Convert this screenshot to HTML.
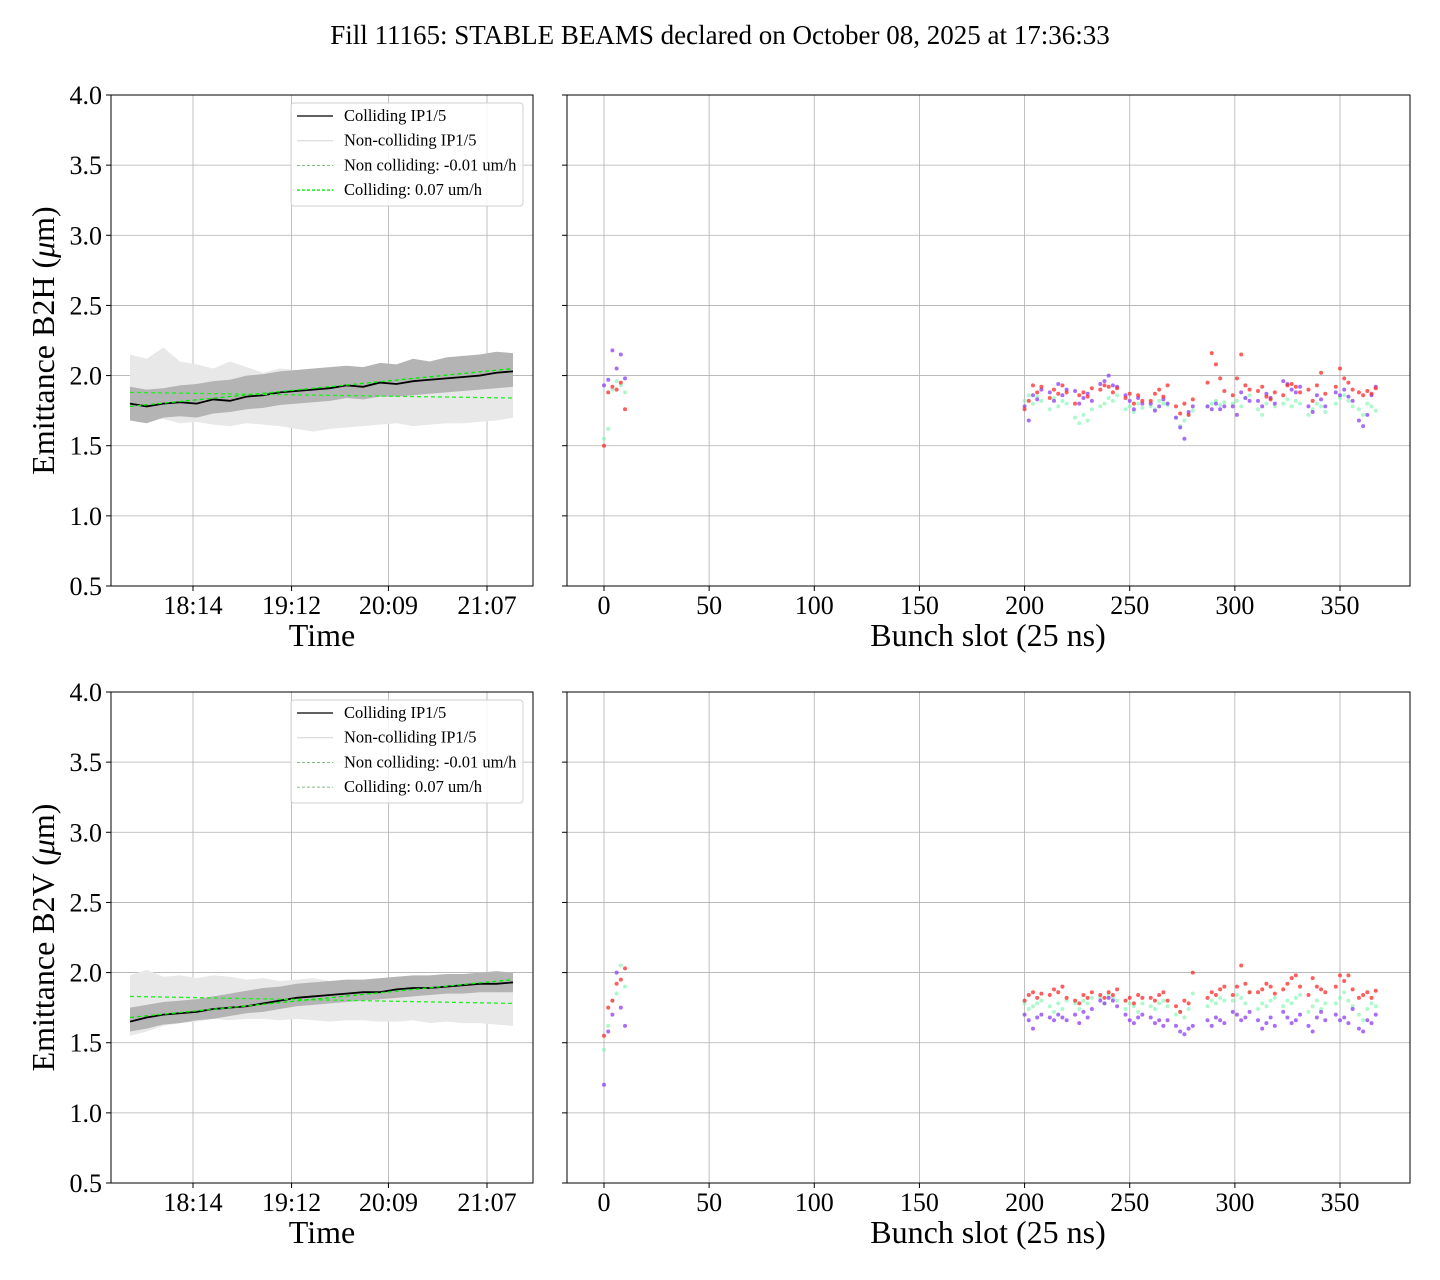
<!DOCTYPE html>
<html><head><meta charset="utf-8"><style>
html,body{margin:0;padding:0;background:#fff}
svg{display:block;font-family:"Liberation Serif",serif}
</style></head><body>
<svg id="chart" width="1440" height="1280" viewBox="0 0 1440 1280" xmlns="http://www.w3.org/2000/svg">
<rect width="1440" height="1280" fill="#fff"/>
<text x="720" y="44" font-size="27" text-anchor="middle">Fill 11165: STABLE BEAMS declared on October 08, 2025 at 17:36:33</text>
</svg>
<script>
// ---------- data ----------
const yTicks = [0.5,1.0,1.5,2.0,2.5,3.0,3.5,4.0];
const timeTickLabels = ["18:14","19:12","20:09","21:07"];
const timeTickMinutes = [37,95,152,210];
const slotTicks = [0,50,100,150,200,250,300,350];
// B2H time series (24 samples, 0..225 minutes after 17:37)
const h_coll = [1.80,1.78,1.80,1.81,1.80,1.83,1.82,1.85,1.86,1.88,1.89,1.90,1.91,1.93,1.92,1.95,1.94,1.96,1.97,1.98,1.99,2.00,2.02,2.03];
const h_collHi = [1.92,1.90,1.91,1.93,1.94,1.96,1.97,2.00,2.01,2.03,2.04,2.05,2.06,2.07,2.06,2.09,2.08,2.12,2.10,2.13,2.14,2.15,2.17,2.16];
const h_collLo = [1.68,1.66,1.70,1.71,1.70,1.73,1.74,1.76,1.77,1.79,1.80,1.81,1.82,1.84,1.83,1.85,1.85,1.86,1.87,1.88,1.89,1.90,1.91,1.92];
const h_ncHi = [2.15,2.12,2.20,2.10,2.08,2.05,2.10,2.06,2.02,2.05,2.04,2.03,2.05,2.06,2.02,2.04,2.05,2.03,2.06,2.02,2.04,2.03,2.02,2.00];
const h_ncLo = [1.70,1.68,1.69,1.66,1.67,1.65,1.64,1.66,1.65,1.64,1.62,1.60,1.62,1.63,1.64,1.65,1.66,1.64,1.65,1.66,1.66,1.67,1.68,1.70];
const h_fitNC = [1.88,1.84];
const h_fitC = [1.78,2.05];
// B2V time series
const v_coll = [1.65,1.68,1.70,1.71,1.72,1.74,1.75,1.76,1.78,1.80,1.82,1.83,1.84,1.85,1.86,1.86,1.88,1.89,1.89,1.90,1.91,1.92,1.92,1.93];
const v_collHi = [1.75,1.77,1.79,1.80,1.81,1.83,1.85,1.87,1.89,1.90,1.92,1.93,1.94,1.95,1.95,1.96,1.97,1.98,1.98,1.99,1.99,2.00,2.01,2.00];
const v_collLo = [1.58,1.60,1.63,1.64,1.66,1.67,1.69,1.71,1.72,1.74,1.76,1.77,1.78,1.79,1.80,1.81,1.82,1.83,1.84,1.85,1.85,1.86,1.86,1.86];
const v_ncHi = [1.98,2.02,1.97,1.98,1.96,1.98,1.97,1.95,1.96,1.94,1.95,1.96,1.94,1.93,1.95,1.94,1.93,1.94,1.93,1.92,1.93,1.94,1.92,1.93];
const v_ncLo = [1.55,1.58,1.62,1.64,1.65,1.67,1.66,1.67,1.67,1.66,1.67,1.66,1.65,1.66,1.66,1.65,1.65,1.66,1.64,1.65,1.64,1.64,1.63,1.62];
const v_fitNC = [1.83,1.78];
const v_fitC = [1.68,1.95];
// bunch slots
const slots = [0,2,4,6,8,10, 200,202,204,206,208, 212,214,216,218,220, 224,226,228,230,232, 236,238,240,242,244, 248,250,252,254,256, 260,262,264,266,268, 272,274,276,278,280, 287,289,291,293,295, 299,301,303,305,307, 311,313,315,317,319, 323,325,327,329,331, 335,337,339,341,343, 348,350,352,354,356, 359,361,363,365,367];
const h_red = [1.50,1.88,1.92,1.90,1.95,1.76, 1.76,1.82,1.93,1.88,1.92, 1.84,1.90,1.87,1.93,1.88, 1.80,1.86,1.88,1.85,1.91, 1.90,1.93,1.92,1.88,1.91, 1.84,1.87,1.80,1.86,1.82, 1.82,1.87,1.90,1.85,1.93, 1.78,1.73,1.80,1.72,1.83, 1.95,2.16,2.08,1.98,1.89, 1.86,1.98,2.15,1.93,1.90, 1.89,1.92,1.85,1.83,1.88, 1.86,1.93,1.94,1.92,1.88, 1.90,1.82,1.93,2.02,1.87, 1.92,2.05,1.98,1.95,1.90, 1.88,1.86,1.89,1.87,1.91];
const h_purple = [1.93,1.97,2.18,2.05,2.15,1.98, 1.78,1.68,1.86,1.83,1.90, 1.88,1.82,1.94,1.86,1.90, 1.89,1.80,1.84,1.87,1.82, 1.94,1.96,2.00,1.93,1.92, 1.86,1.82,1.76,1.84,1.80, 1.80,1.75,1.78,1.83,1.80, 1.70,1.63,1.55,1.74,1.78, 1.78,1.76,1.80,1.76,1.78, 1.78,1.72,1.88,1.84,1.82, 1.82,1.78,1.87,1.84,1.80, 1.96,1.94,1.90,1.88,1.92, 1.78,1.74,1.86,1.83,1.78, 1.88,1.86,1.90,1.85,1.82, 1.68,1.64,1.72,1.86,1.92];
const h_green = [1.55,1.62,1.90,1.96,1.93,1.88, 1.82,1.86,1.80,1.85,1.82, 1.76,1.84,1.78,1.82,1.80, 1.70,1.66,1.72,1.68,1.76, 1.78,1.80,1.84,1.82,1.86, 1.76,1.78,1.74,1.80,1.77, 1.78,1.76,1.82,1.80,1.79, 1.70,1.64,1.68,1.72,1.75, 1.78,1.80,1.82,1.79,1.81, 1.80,1.82,1.78,1.84,1.86, 1.76,1.72,1.80,1.84,1.78, 1.80,1.83,1.78,1.82,1.80, 1.72,1.76,1.80,1.78,1.74, 1.80,1.84,1.86,1.82,1.78, 1.76,1.72,1.80,1.78,1.75];
const v_red = [1.55,1.75,1.80,1.92,1.95,2.03, 1.80,1.84,1.86,1.82,1.85, 1.84,1.88,1.86,1.90,1.82, 1.80,1.78,1.84,1.82,1.86, 1.84,1.82,1.86,1.84,1.88, 1.80,1.82,1.78,1.84,1.82, 1.82,1.80,1.84,1.86,1.80, 1.76,1.72,1.80,1.78,2.00, 1.82,1.86,1.84,1.88,1.90, 1.84,1.90,2.05,1.92,1.86, 1.86,1.88,1.92,1.90,1.85, 1.88,1.92,1.96,1.98,1.90, 1.84,1.96,1.90,1.88,1.86, 1.90,1.98,1.94,1.98,1.88, 1.82,1.84,1.86,1.82,1.87];
const v_purple = [1.20,1.58,1.70,2.00,1.75,1.62, 1.70,1.66,1.60,1.68,1.70, 1.68,1.66,1.70,1.68,1.66, 1.70,1.64,1.72,1.68,1.74, 1.80,1.78,1.82,1.80,1.76, 1.70,1.66,1.64,1.68,1.70, 1.68,1.64,1.66,1.62,1.66, 1.62,1.58,1.56,1.60,1.62, 1.66,1.62,1.68,1.66,1.64, 1.72,1.70,1.66,1.68,1.72, 1.66,1.60,1.64,1.68,1.62, 1.72,1.68,1.64,1.66,1.70, 1.62,1.58,1.68,1.72,1.66, 1.70,1.66,1.68,1.64,1.74, 1.60,1.58,1.66,1.64,1.70];
const v_green = [1.45,1.62,1.80,1.85,2.05,1.90, 1.78,1.74,1.76,1.78,1.80, 1.76,1.72,1.78,1.74,1.80, 1.78,1.74,1.80,1.78,1.82, 1.82,1.78,1.84,1.82,1.80, 1.74,1.78,1.76,1.72,1.78, 1.76,1.74,1.78,1.80,1.76, 1.70,1.72,1.68,1.74,1.85, 1.76,1.80,1.78,1.82,1.80, 1.80,1.84,1.82,1.78,1.86, 1.74,1.78,1.76,1.80,1.82, 1.76,1.80,1.78,1.82,1.84, 1.72,1.76,1.80,1.74,1.78, 1.78,1.82,1.86,1.80,1.76, 1.70,1.66,1.74,1.78,1.76];

// ---------- drawing ----------
const NS="http://www.w3.org/2000/svg";
const svg=document.getElementById('chart');
function mk(tag,attrs,parent){const e=document.createElementNS(NS,tag);for(const k in attrs)e.setAttribute(k,attrs[k]);(parent||svg).appendChild(e);return e;}
const tL=130, tR=513;
function xTime(m){return 193+(m-37)*(294/173);}
function xSlot(s){return 604+s*(736/350);}
function makeY(top,bot){return v=>bot-(v-0.5)*(bot-top)/3.5;}

function panel(top,bot,label,d,legendFitColor){
  const y=makeY(top,bot);
  const L=111,R=533,L2=567,R2=1410;
  yTicks.forEach(t=>{
    const g1=mk('line',{x1:L,x2:R,y1:y(t),y2:y(t),stroke:'#b0b0b0','stroke-width':0.8});
    
    
    const g2=mk('line',{x1:L2,x2:R2,y1:y(t),y2:y(t),stroke:'#b0b0b0','stroke-width':0.8});
    
    
    mk('line',{x1:L-5,x2:L,y1:y(t),y2:y(t),stroke:'#000'});
    mk('line',{x1:L2-5,x2:L2,y1:y(t),y2:y(t),stroke:'#000'});
    const tl=mk('text',{x:L-9,y:y(t)+9,'font-size':26,'text-anchor':'end'});
    tl.textContent=t.toFixed(1);
    
    
  });
  timeTickMinutes.forEach((m,i)=>{
    const x=xTime(m);
    mk('line',{x1:x,x2:x,y1:top,y2:bot,stroke:'#b0b0b0','stroke-width':0.8});
    mk('line',{x1:x,x2:x,y1:bot,y2:bot+5,stroke:'#000'});
    const tl=mk('text',{x:x,y:bot+28,'font-size':26,'text-anchor':'middle'});
    tl.textContent=timeTickLabels[i];
    
    
  });
  slotTicks.forEach(s=>{
    const x=xSlot(s);
    mk('line',{x1:x,x2:x,y1:top,y2:bot,stroke:'#b0b0b0','stroke-width':0.8});
    mk('line',{x1:x,x2:x,y1:bot,y2:bot+5,stroke:'#000'});
    const tl=mk('text',{x:x,y:bot+28,'font-size':26,'text-anchor':'middle'});
    tl.textContent=s;
    
    
  });
  function band(hi,lo,fill,name){
    const p=hi.map((v,i)=>(tL+(tR-tL)*i/(hi.length-1))+','+y(v));
    const q=lo.map((v,i)=>(tL+(tR-tL)*i/(lo.length-1))+','+y(v)).reverse();
    const b=mk('polygon',{points:p.concat(q).join(' '),fill:fill});
    
    
  }
  band(d.ncHi,d.ncLo,'#e8e8e8','non-colliding-band');
  band(d.collHi,d.collLo,'#b4b4b4','colliding-band');
  const pts=d.coll.map((v,i)=>(tL+(tR-tL)*i/(d.coll.length-1))+','+y(v)).join(' ');
  const ln=mk('polyline',{points:pts,fill:'none',stroke:'#000','stroke-width':1.8});
  
  
  const f1=mk('line',{x1:tL,x2:tR,y1:y(d.fitNC[0]),y2:y(d.fitNC[1]),stroke:'#22ee22','stroke-width':1.3,'stroke-dasharray':'4,3'});
  
  
  const f2=mk('line',{x1:tL,x2:tR,y1:y(d.fitC[0]),y2:y(d.fitC[1]),stroke:'#00ee00','stroke-width':1.3,'stroke-dasharray':'4,3'});
  
  
  [[d.green,'rgba(120,245,170,0.6)','green-bunch-point'],[d.purple,'rgba(140,60,245,0.75)','purple-bunch-point'],[d.red,'rgba(255,40,40,0.75)','red-bunch-point']].forEach(([arr,c,nm])=>{
    arr.forEach((v,i)=>{
      const cc=mk('circle',{cx:xSlot(slots[i]),cy:y(v),r:2,fill:c});
      
      
    });
  });
  const fr1=mk('rect',{x:L,y:top,width:R-L,height:bot-top,fill:'none',stroke:'#000','stroke-width':1});
  
  
  const fr2=mk('rect',{x:L2,y:top,width:R2-L2,height:bot-top,fill:'none',stroke:'#000','stroke-width':1});
  
  
  const yl=mk('text',{x:0,y:0,'font-size':32,'text-anchor':'middle',transform:`translate(54,${(top+bot)/2}) rotate(-90)`});
  yl.innerHTML=label+' (<tspan font-style="italic">μ</tspan>m)';
  
  
  const xl=mk('text',{x:322,y:bot+60,'font-size':32,'text-anchor':'middle'});
  xl.textContent='Time';
  
  
  const xl2=mk('text',{x:988,y:bot+60,'font-size':32,'text-anchor':'middle'});
  xl2.textContent='Bunch slot (25 ns)';
  
  
  const lg=mk('g',{});
  
  
  mk('rect',{x:291,y:top+8,width:232,height:103,rx:3,fill:'rgba(255,255,255,0.85)',stroke:'#d0d0d0'},lg);
  const entries=[['Colliding IP1/5','#000',1.2,''],['Non-colliding IP1/5','#d8d8d8',1.2,''],['Non colliding: -0.01 um/h','#5fa35f',0.8,'3,2'],['Colliding: 0.07 um/h',legendFitColor,legendFitColor=='#00ee00'?1.4:0.8,'3,2']];
  entries.forEach((e,i)=>{
    const yy=top+21+i*24.7;
    const g=mk('g',{},lg);
    
    
    mk('line',{x1:297,x2:333,y1:yy,y2:yy,stroke:e[1],'stroke-width':e[2],'stroke-dasharray':e[3]||'none'},g);
    const t=mk('text',{x:344,y:yy+5,'font-size':16.5},g);
    t.textContent=e[0];
  });
}
panel(95,586,'Emittance B2H',{coll:h_coll,collHi:h_collHi,collLo:h_collLo,ncHi:h_ncHi,ncLo:h_ncLo,fitNC:h_fitNC,fitC:h_fitC,red:h_red,purple:h_purple,green:h_green},'#00ee00');
panel(692,1183,'Emittance B2V',{coll:v_coll,collHi:v_collHi,collLo:v_collLo,ncHi:v_ncHi,ncLo:v_ncLo,fitNC:v_fitNC,fitC:v_fitC,red:v_red,purple:v_purple,green:v_green},'#5fa35f');
</script>
</body></html>
